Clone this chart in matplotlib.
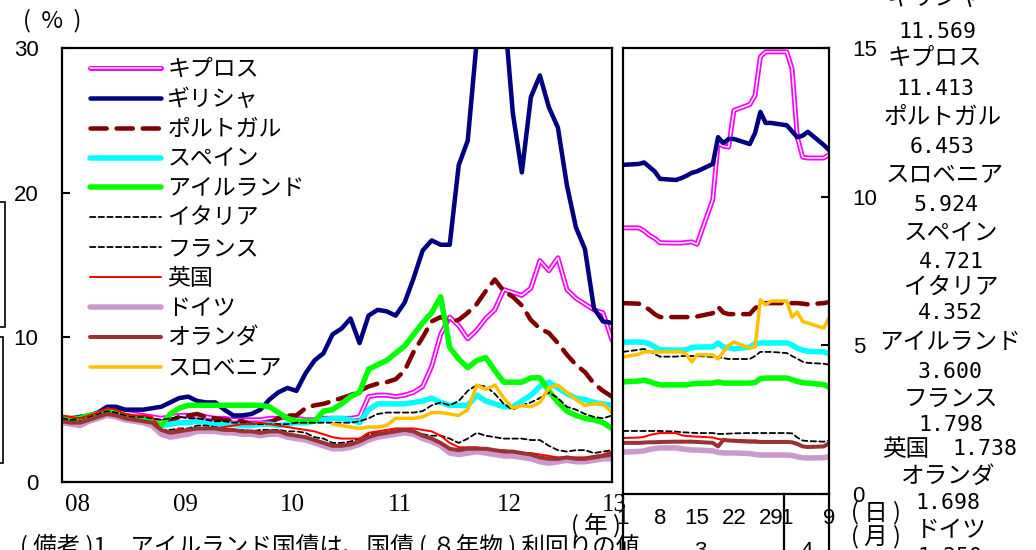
import numpy as np
import matplotlib
matplotlib.use('Agg')
import matplotlib.pyplot as plt
from matplotlib import patheffects as pe
from matplotlib.patches import Rectangle
import matplotlib.transforms as mtrans

W, H = 1036, 550
JP = ['Noto Sans CJK JP', 'DejaVu Sans']
plt.rcParams['font.family'] = JP

# ---------------- data ----------------
countries = ['キプロス', 'ギリシャ', 'ポルトガル', 'スペイン', 'アイルランド', 'イタリア',
             'フランス', '英国', 'ドイツ', 'オランダ', 'スロベニア']

year_labels = ['08', '09', '10', '11', '12', '13']

# monthly yields (%), left panel
cyprus_m = [4.4, 4.3, 4.4, 4.5, 4.7, 5.0, 4.9, 4.8, 4.7, 4.6, 4.5, 4.4,
            4.5, 4.6, 4.6, 4.5, 4.5, 4.4, 4.4, 4.3, 4.3, 4.3, 4.3, 4.4,
            4.4, 4.5, 4.4, 4.3, 4.3, 4.4, 4.4, 4.4, 4.4, 4.5,
            5.9, 6.0, 6.0, 5.9, 6.0, 6.2, 6.6, 8.0, 10.2, 11.4,
            10.8, 9.9, 10.5, 11.3, 11.9, 13.3, 13.1, 12.9, 13.4, 15.3,
            14.6, 15.5, 13.3, 12.7, 12.3, 11.9, 11.7, 9.8]
greece_m = [4.4, 4.4, 4.5, 4.6, 4.8, 5.2, 5.2, 5.0, 5.0, 5.0, 5.1, 5.2,
            5.5, 5.8, 5.9, 5.6, 5.5, 5.5, 5.0, 4.6, 4.6, 4.7, 5.0, 5.7,
            6.2, 6.5, 6.3, 7.5, 8.4, 8.9, 10.2, 10.6, 11.3, 9.6,
            11.5, 11.9, 11.8, 11.5, 12.4, 14.1, 16.0, 16.7, 16.4, 16.4,
            21.9, 23.6, 30.5, 34.0, 37.0, 33.0, 25.5, 21.4, 26.6, 28.1,
            25.9, 24.5, 20.5, 17.6, 16.1, 12.0, 11.1, 11.0]
portugal_m = [4.3, 4.3, 4.4, 4.6, 4.7, 4.9, 4.8, 4.6, 4.5, 4.3, 4.2, 4.0,
              4.2, 4.5, 4.6, 4.7, 4.5, 4.4, 4.3, 4.2, 4.2, 4.0, 4.0, 4.1,
              4.4, 4.6, 4.6, 5.1, 5.3, 5.4, 5.6, 5.8, 6.0, 6.3,
              6.6, 6.8, 6.9, 7.1, 7.7, 9.0, 10.0, 11.1, 11.4, 11.1,
              11.2, 11.7, 12.3, 13.2, 14.0, 13.2, 12.8, 12.2, 11.2, 10.6,
              10.3, 9.6, 8.8, 8.1, 7.6, 6.8, 6.3, 5.9]
spain_m = [4.3, 4.2, 4.2, 4.4, 4.6, 4.9, 4.8, 4.6, 4.5, 4.2, 4.0, 3.9,
           4.0, 4.1, 4.1, 4.2, 4.1, 4.0, 4.0, 4.0, 3.9, 3.9, 4.0, 4.0,
           3.9, 4.0, 4.1, 4.1, 4.2, 4.3, 4.4, 4.4, 4.3, 4.1,
           5.0, 5.4, 5.4, 5.4, 5.4, 5.5, 5.6, 5.8, 5.5, 5.3,
           5.3, 5.3, 6.0, 5.6, 5.4, 5.2, 5.2, 5.6, 6.0, 6.6,
           6.9, 6.5, 6.1, 5.8, 5.7, 5.5, 5.4, 5.3]
ireland_m = [4.4, 4.4, 4.4, 4.6, 4.7, 4.9, 4.8, 4.6, 4.5, 4.4, 4.3, 3.9,
             4.7, 5.1, 5.3, 5.3, 5.3, 5.3, 5.3, 5.3, 5.3, 5.3, 5.3, 5.2,
             4.8, 4.4, 4.2, 4.2, 4.2, 4.9, 5.0, 5.4, 5.9, 6.2,
             7.8, 8.1, 8.4, 8.9, 9.4, 10.2, 11.0, 11.7, 12.8, 9.3,
             8.5, 7.9, 8.4, 8.6, 7.7, 6.9, 6.9, 6.9, 7.2, 7.2,
             6.3, 5.5, 4.9, 4.6, 4.4, 4.3, 4.1, 3.7]
italy_m = [4.4, 4.3, 4.4, 4.5, 4.7, 4.9, 4.8, 4.6, 4.5, 4.5, 4.4, 4.3,
           4.4, 4.5, 4.4, 4.4, 4.3, 4.2, 4.2, 4.1, 4.1, 4.0, 4.0, 4.0,
           4.0, 4.0, 4.1, 4.1, 4.1, 4.1, 4.1, 4.1, 4.1, 4.2,
           4.4, 4.7, 4.8, 4.8, 4.8, 4.8, 4.9, 5.3, 5.5, 5.3,
           5.6, 6.3, 6.7, 6.6, 6.1, 5.4, 5.0, 5.3, 5.5, 5.8,
           6.2, 5.8, 5.2, 5.0, 4.7, 4.5, 4.4, 4.6]
france_m = [4.3, 4.2, 4.2, 4.3, 4.5, 4.8, 4.7, 4.5, 4.4, 4.2, 4.0, 3.6,
            3.6, 3.7, 3.7, 3.9, 3.9, 3.8, 3.7, 3.6, 3.6, 3.5, 3.6, 3.6,
            3.6, 3.5, 3.5, 3.4, 3.1, 3.0, 2.7, 2.7, 2.8, 3.0,
            3.3, 3.4, 3.4, 3.6, 3.6, 3.5, 3.3, 3.2, 3.2, 3.0,
            2.7, 3.0, 3.4, 3.2, 3.1, 3.0, 3.0, 3.0, 2.9, 2.9,
            2.5, 2.2, 2.1, 2.2, 2.2, 2.0, 2.1, 2.2]
uk_m = [4.6, 4.5, 4.4, 4.6, 4.8, 5.1, 5.0, 4.7, 4.6, 4.6, 4.5, 3.6,
        3.4, 3.7, 3.4, 3.6, 3.7, 3.7, 3.8, 3.9, 4.0, 4.0, 4.1, 4.0,
        3.9, 3.8, 3.7, 3.6, 3.5, 3.3, 3.1, 3.0, 3.0, 3.0,
        3.4, 3.5, 3.6, 3.7, 3.7, 3.7, 3.6, 3.5, 3.2, 2.7,
        2.4, 2.4, 2.4, 2.3, 2.2, 2.2, 2.1, 2.0, 2.0, 1.9,
        1.8, 1.7, 1.7, 1.7, 1.7, 1.8, 1.9, 2.1]
germany_m = [4.1, 4.0, 3.9, 4.2, 4.4, 4.6, 4.5, 4.3, 4.2, 4.1, 3.9, 3.3,
             3.1, 3.2, 3.3, 3.5, 3.5, 3.5, 3.4, 3.4, 3.3, 3.3, 3.2, 3.3,
             3.3, 3.1, 3.0, 2.9, 2.7, 2.5, 2.3, 2.3, 2.4, 2.6,
             2.9, 3.1, 3.2, 3.3, 3.4, 3.3, 3.0, 2.8, 2.5, 2.0,
             1.9, 2.0, 2.1, 2.0, 1.9, 1.8, 1.8, 1.7, 1.6, 1.4,
             1.3, 1.4, 1.5, 1.4, 1.4, 1.5, 1.6, 1.6]
netherlands_m = [4.2, 4.1, 4.1, 4.3, 4.5, 4.7, 4.6, 4.4, 4.3, 4.2, 4.1, 3.6,
                 3.4, 3.5, 3.6, 3.7, 3.7, 3.7, 3.6, 3.6, 3.5, 3.5, 3.4, 3.5,
                 3.5, 3.3, 3.2, 3.1, 2.9, 2.7, 2.5, 2.5, 2.6, 2.8,
                 3.1, 3.3, 3.4, 3.5, 3.6, 3.5, 3.2, 3.0, 2.7, 2.3,
                 2.2, 2.3, 2.3, 2.3, 2.2, 2.1, 2.1, 2.0, 1.9, 1.7,
                 1.6, 1.6, 1.7, 1.6, 1.6, 1.7, 1.8, 1.9]
slovenia_m = [np.nan] * 30 + [
    4.0, 3.9, 3.8, 3.7, 3.8, 3.8, 3.9, 4.4, 4.4, 4.4,
    4.5, 4.8, 4.8, 4.7, 4.6, 5.0, 6.7, 6.4, 6.7, 5.8,
    5.1, 5.3, 5.2, 5.5, 6.5, 6.7, 6.2, 5.7, 5.3, 5.4,
    5.4, 4.8]

# daily yields, right panel (day offset from 1 March 2013)
day_offsets = [0, 3, 4, 5, 6, 7, 10, 11, 12, 13, 14, 17, 18, 19, 20, 21,
               24, 25, 26, 27, 28, 31, 32, 33, 34, 35, 38, 39]
day_tick_pos = [0, 7, 14, 21, 28, 31, 39]
day_tick_labels = ['1', '8', '15', '22', '29', '1', '9']
month_labels = ['3', '4']

cyprus_d = [8.95, 8.95, 8.85, 8.70, 8.60, 8.45, 8.44, 8.44, 8.46, 8.48, 8.40, 9.90, 11.80, 11.70,
            11.67, 12.90, 13.10, 13.40, 14.70, 14.87, 14.87, 14.87, 14.30, 12.00, 11.33, 11.30, 11.30, 11.413]
greece_d = [11.07, 11.10, 11.15, 11.00, 10.85, 10.60, 10.56, 10.62, 10.70, 10.80, 10.85, 11.10, 12.00, 11.80,
            11.94, 11.94, 11.77, 12.14, 12.85, 12.48, 12.48, 12.40, 12.20, 12.00, 12.05, 12.18, 11.74, 11.569]
portugal_d = [6.42, 6.40, 6.30, 6.20, 6.05, 5.95, 5.95, 5.95, 5.95, 5.95, 5.97, 6.08, 6.30, 6.10,
              6.05, 6.05, 6.05, 6.25, 6.35, 6.42, 6.42, 6.42, 6.42, 6.42, 6.40, 6.38, 6.42, 6.453]
spain_d = [5.11, 5.11, 5.10, 5.05, 4.95, 4.85, 4.84, 4.84, 4.86, 4.92, 4.94, 4.95, 5.08, 4.94,
           4.92, 4.88, 4.94, 5.05, 5.08, 5.08, 5.08, 5.08, 5.01, 4.90, 4.84, 4.80, 4.78, 4.721]
ireland_d = [3.77, 3.80, 3.83, 3.78, 3.72, 3.67, 3.67, 3.67, 3.67, 3.70, 3.72, 3.73, 3.77, 3.73,
             3.73, 3.73, 3.73, 3.75, 3.88, 3.90, 3.90, 3.90, 3.85, 3.78, 3.75, 3.73, 3.68, 3.600]
italy_d = [4.78, 4.85, 4.88, 4.80, 4.70, 4.62, 4.62, 4.64, 4.64, 4.64, 4.64, 4.61, 4.60, 4.57,
           4.54, 4.54, 4.54, 4.64, 4.78, 4.78, 4.78, 4.74, 4.64, 4.55, 4.45, 4.41, 4.38, 4.352]
france_d = [2.12, 2.12, 2.12, 2.12, 2.12, 2.12, 2.10, 2.08, 2.07, 2.06, 2.05, 2.05, 2.02, 2.02,
            2.03, 2.04, 2.05, 2.05, 2.05, 2.05, 2.05, 2.05, 2.04, 1.90, 1.80, 1.78, 1.76, 1.798]
uk_d = [1.88, 1.90, 1.92, 1.98, 2.02, 2.05, 2.05, 1.98, 1.95, 1.94, 1.93, 1.90, 1.85, 1.83,
        1.82, 1.82, 1.80, 1.80, 1.78, 1.75, 1.75, 1.75, 1.75, 1.72, 1.62, 1.60, 1.62, 1.738]
germany_d = [1.41, 1.43, 1.45, 1.50, 1.53, 1.55, 1.55, 1.52, 1.50, 1.48, 1.48, 1.45, 1.40, 1.38,
             1.38, 1.38, 1.36, 1.33, 1.31, 1.31, 1.31, 1.31, 1.30, 1.25, 1.22, 1.21, 1.22, 1.25]
netherlands_d = [1.72, 1.72, 1.73, 1.74, 1.74, 1.75, 1.76, 1.76, 1.76, 1.76, 1.75, 1.72, 1.60, 1.82,
                 1.80, 1.79, 1.76, 1.76, 1.75, 1.75, 1.75, 1.75, 1.74, 1.68, 1.60, 1.58, 1.60, 1.698]
slovenia_d = [4.61, 4.70, 4.78, 4.78, 4.78, 4.78, 4.78, 4.78, 4.70, 4.44, 4.68, 4.68, 4.54, 4.78,
              5.00, 5.11, 4.91, 4.94, 6.53, 6.36, 6.49, 6.49, 5.95, 6.12, 5.80, 5.75, 5.58, 5.924]

# latest-value annotations (right column)
latest_names = ['ギリシャ', 'キプロス', 'ポルトガル', 'スロベニア', 'スペイン', 'イタリア',
                'アイルランド', 'フランス', '英国', 'オランダ', 'ドイツ']
latest_values = ['11.569', '11.413', '6.453', '5.924', '4.721', '4.352',
                 '3.600', '1.798', '1.738', '1.698', '1.250']

monthly = [cyprus_m, greece_m, portugal_m, spain_m, ireland_m, italy_m,
           france_m, uk_m, germany_m, netherlands_m, slovenia_m]
daily = [cyprus_d, greece_d, portugal_d, spain_d, ireland_d, italy_d,
         france_d, uk_d, germany_d, netherlands_d, slovenia_d]

# ---------------- styles ----------------
px = 0.72
styles = [
    dict(color='white', lw=1.5 * px,
         path_effects=[pe.Stroke(linewidth=5 * px, foreground='#FF00FF'), pe.Normal()]),
    dict(color='#000080', lw=4.5 * px),
    dict(color='#800000', lw=4.5 * px, ls=(0, (3.6, 2.2))),
    dict(color='#00FFFF', lw=5.5 * px),
    dict(color='#00FF00', lw=5.5 * px),
    dict(color='black', lw=1.8 * px, ls=(0, (3.0, 1.8))),
    dict(color='black', lw=1.8 * px, ls=(0, (3.0, 1.8))),
    dict(color='#FF0000', lw=2.0 * px),
    dict(color='#CC99CC', lw=5.5 * px),
    dict(color='#993333', lw=4.0 * px),
    dict(color='#FFC000', lw=3.5 * px),
]

fig = plt.figure(figsize=(W / 100, H / 100), dpi=100)


def fx(p):
    return p / W


def fy(p):
    return 1 - p / H


ax1 = fig.add_axes([fx(62), fy(482), fx(612) - fx(62), fy(48) - fy(482)])
ax2 = fig.add_axes([fx(623), fy(494), fx(829) - fx(623), fy(48) - fy(494)])

months = np.arange(len(greece_m))
for name, ys, st in zip(countries, monthly, styles):
    ax1.plot(months, ys, label=name, solid_capstyle='round', dash_capstyle='round',
             solid_joinstyle='round', **st)
for ys, st in zip(daily, styles):
    ax2.plot(day_offsets, ys, solid_capstyle='round', dash_capstyle='round',
             solid_joinstyle='round', **st)

# left axes
ax1.set_xlim(0, len(greece_m) - 1)
ax1.set_ylim(0, 30)
ax1.set_yticks([0, 10, 20, 30])
ax1.set_xticks([])
ax1.tick_params(axis='y', direction='in', length=6, width=1.5, pad=17, labelsize=16)
for lab in ax1.get_yticklabels():
    lab.set_fontfamily('Liberation Sans')
for s in ax1.spines.values():
    s.set_linewidth(1.6)

year_pos = [1.77, 13.7, 25.6, 37.5, 49.6, 61.3]
trans1 = mtrans.blended_transform_factory(ax1.transData, fig.transFigure)
for xp, lab in zip(year_pos, year_labels):
    ax1.text(xp, fy(505), lab, transform=trans1, ha='center', va='center',
             fontsize=18, family='Liberation Serif', clip_on=False)

leg = ax1.legend(loc='upper left', bbox_to_anchor=(0.051, 0.977), frameon=False,
                 prop={'family': JP, 'size': 16.5}, handlelength=3.1,
                 handletextpad=0.27, labelspacing=0.3, borderpad=0, borderaxespad=0)

# right axes
ax2.set_xlim(0, 39)
ax2.set_ylim(0, 15)
ax2.yaxis.tick_right()
ax2.set_yticks([0, 5, 10, 15])
ax2.tick_params(axis='y', direction='in', length=6, width=1.5, pad=17, labelsize=16)
ax2.set_xticks(day_tick_pos)
ax2.set_xticklabels(day_tick_labels)
ax2.tick_params(axis='x', length=0, pad=10, labelsize=16)
for lab in ax2.get_yticklabels() + ax2.get_xticklabels():
    lab.set_fontfamily('Liberation Sans')
for s in ax2.spines.values():
    s.set_linewidth(1.6)

trans2 = mtrans.blended_transform_factory(ax2.transData, ax2.transAxes)
for xv in [0, 30.4, 39]:
    ax2.plot([xv, xv], [0, -0.13], transform=trans2, color='black', lw=1.6, clip_on=False)
for xv, lab in zip([14.6, 34.7], month_labels):
    ax2.text(xv, fy(541), lab, transform=mtrans.blended_transform_factory(ax2.transData, fig.transFigure),
             ha='center', va='top', fontsize=16, family='Liberation Sans')


def ftext(x, y, s, **kw):
    fig.text(fx(x), fy(y), s, **kw)


ftext(52, 21, '(  %  )', ha='center', va='center', fontsize=17)
ftext(596, 526, '( 年 )', ha='center', va='center', fontsize=17)
ftext(876, 513, '( 日 )', ha='center', va='center', fontsize=17)
ftext(876, 537, '( 月 )', ha='center', va='center', fontsize=17)
ftext(20, 553, '( 備考 )1　アイルランド国債は、国債 ( ８年物 ) 利回りの値',
      ha='left', va='baseline', fontsize=17)

# right column of latest values
name_pos = [(935, -2), (935, 58), (943, 117), (945, 176), (951, 234), (951, 287),
            (950, 342), (951, 399), (906, 449), (948, 476), (951, 530)]
val_pos = [(937, 32), (935, 89), (942, 147), (946, 205), (951, 262), (950, 313),
           (950, 372), (951, 425), (985, 449), (948, 503), (950, 557)]
for n, v, (nx, ny), (vx, vy) in zip(latest_names, latest_values, name_pos, val_pos):
    ftext(nx, ny, n, ha='center', va='center', fontsize=17)
    ftext(vx, vy, v, ha='center', va='center', fontsize=15.5, family='DejaVu Sans Mono')

# fragments of neighbouring frames at the left edge
for (y0, y1, xr) in [(202, 327, 5), (337, 463, 3)]:
    fig.add_artist(Rectangle((fx(-20), fy(y1)), fx(xr + 20), fy(y0) - fy(y1),
                             transform=fig.transFigure, fill=False, lw=1.2, edgecolor='black'))

fig.savefig('out.png', dpi=100)
